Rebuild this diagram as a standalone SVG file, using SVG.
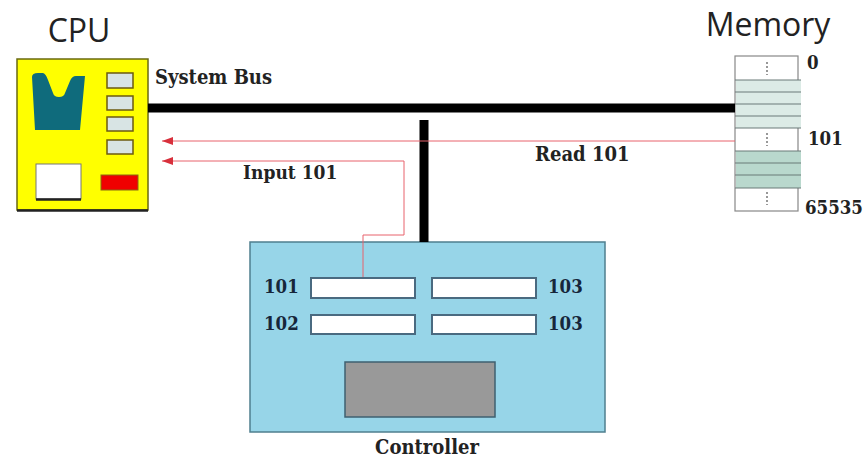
<svg xmlns="http://www.w3.org/2000/svg" width="863" height="459" viewBox="0 0 863 459">
<style>
.s{font-family:"DejaVu Serif Condensed","Liberation Serif",serif;font-weight:bold;font-size:20px;fill:#222}
.n{font-family:"DejaVu Serif Condensed","Liberation Serif",serif;font-weight:bold;font-size:18.500px;fill:#222}
.c{font-family:"Open Sans","Liberation Sans",sans-serif;font-size:32px;fill:#222}
.d{fill:#16263a}
.reg{fill:#d8e4e4;stroke:#6b5a10;stroke-width:1.5}
.slot{fill:#fff;stroke:#4a6a80;stroke-width:2}
.cell{stroke:#6b7b78;stroke-width:1.2;fill:none}
.dots{stroke:#777;stroke-width:1.500;stroke-dasharray:2 2;fill:none}
.bus{stroke:#000;fill:none}
.red{stroke:#e8626c;stroke-width:1;fill:none}
</style>
<defs><marker id="a" markerUnits="userSpaceOnUse" markerWidth="11" markerHeight="10" refX="11" refY="5" orient="auto"><path d="M0 1 L11 5 L0 9Z" fill="#d8303c"/></marker></defs>
<rect width="863" height="459" fill="#fff"/>
<g id="cpu">
<rect x="17" y="59" width="131" height="151" fill="#ffff00" stroke="#6a6a10" stroke-width="1.5"/>
<path d="M17 210.500H148" stroke="#222" stroke-width="2.500"/>
<path d="M32 77 Q32 73 38 73 L43 73 Q46 74 48 80 L53 93 Q54 97 59 97 Q64 97 65 93 L70 81 Q72 76 76 76 L85 76 L80 130 L35 130Z" fill="#0f6b7c"/>
<rect x="107" y="73" width="26" height="15" class="reg"/>
<rect x="107" y="96" width="26" height="14" class="reg"/>
<rect x="107" y="117" width="26" height="14" class="reg"/>
<rect x="107" y="140" width="26" height="14" class="reg"/>
<rect x="36" y="164" width="45" height="35" fill="#fff" stroke="#777" stroke-width="1"/>
<path d="M36 199.500H81" stroke="#222" stroke-width="2.500"/>
<rect x="101" y="175" width="37" height="15" fill="#f00000" stroke="#8a6a10" stroke-width="1"/>
<text x="79" y="42" class="c" text-anchor="middle">CPU</text>
</g>
<g id="memory">
<rect x="735" y="56" width="63" height="155" fill="#fff" stroke="#888" stroke-width="1.200"/>
<rect x="736" y="80" width="65" height="48" fill="#dcebe6"/>
<rect x="736" y="151" width="65" height="37" fill="#b9d8cd"/>
<path class="cell" d="M735 80H801M735 92H801M735 104H801M735 116H801M735 128H801M735 151H801M735 163H801M735 175H801M735 188H801"/>
<path class="dots" d="M767 62V75M767 133V146M767 192V205"/>
<text x="807" y="69" class="n">0</text>
<text x="808" y="145" class="n">101</text>
<text x="805" y="214" class="n">65535</text>
<text x="768" y="36" class="c" text-anchor="middle">Memory</text>
</g>
<g id="controller">
<rect x="250" y="242" width="355" height="190" fill="#97d5e8" stroke="#4f7f8f" stroke-width="1.500"/>
<rect x="311" y="278" width="104" height="20" class="slot"/>
<rect x="432" y="278" width="104" height="20" class="slot"/>
<rect x="311" y="315" width="104" height="19" class="slot"/>
<rect x="432" y="315" width="104" height="19" class="slot"/>
<rect x="345" y="362" width="150" height="55" fill="#999" stroke="#3f6070" stroke-width="1.500"/>
<text x="264" y="293" class="n d">101</text>
<text x="264" y="330" class="n d">102</text>
<text x="548" y="293" class="n d">103</text>
<text x="548" y="330" class="n d">103</text>
<text x="427" y="454" class="s" text-anchor="middle">Controller</text>
</g>
<g id="connectors">
<path class="bus" stroke-width="9" d="M148 108H735"/>
<path class="bus" stroke-width="9" d="M424 120V242"/>
<path class="red" marker-end="url(#a)" d="M735 141H162"/>
<path class="red" marker-end="url(#a)" d="M363 277V235H404V161H162"/>
</g>
<g id="labels">
<text x="155" y="84" class="s">System Bus</text>
<text x="535" y="161" class="s">Read 101</text>
<text x="243" y="179" class="s" style="font-size:19px">Input 101</text>
</g>
</svg>
